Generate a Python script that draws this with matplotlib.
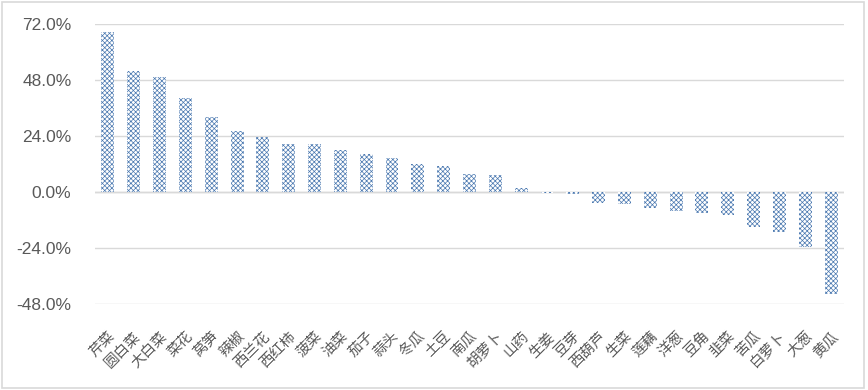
import matplotlib
matplotlib.use("Agg")
import matplotlib.pyplot as plt
from matplotlib.ticker import FuncFormatter
from matplotlib.patches import Rectangle

plt.rcParams['hatch.linewidth'] = 0.5

categories = ["芹菜", "圆白菜", "大白菜", "菜花", "莴笋", "辣椒", "西兰花", "西红柿", "菠菜", "油菜",
              "茄子", "蒜头", "冬瓜", "土豆", "南瓜", "胡萝卜", "山药", "生姜", "豆芽", "西葫芦",
              "生菜", "莲藕", "洋葱", "豆角", "韭菜", "苦瓜", "白萝卜", "大葱", "黄瓜"]
values = [68.3, 51.7, 49.1, 40.3, 32.1, 26.1, 23.4, 20.3, 20.3, 18.1,
          16.4, 14.5, 12.1, 11.0, 7.6, 7.2, 1.7, -0.5, -0.9, -4.6,
          -5.0, -7.1, -8.0, -9.1, -9.7, -15.1, -17.3, -23.8, -43.7]
yticks = [-48, -24, 0, 24, 48, 72]

fig = plt.figure(figsize=(8.68, 3.90), dpi=100)
ax = fig.add_axes([95/868, 1 - 304/390, (844-95)/868, (304-23.7)/390])

x = list(range(len(categories)))
ax.bar(x, values, width=0.5, facecolor='white', edgecolor='#4a78b0', hatch='xxxxxxx', linewidth=0, zorder=3)

ax.set_ylim(-48, 72)
ax.set_xlim(-0.5, len(categories) - 0.5)
ax.set_yticks(yticks)
ax.yaxis.set_major_formatter(FuncFormatter(lambda v, p: f"{v:.1f}%"))
ax.grid(axis='y', color='#d9d9d9', linewidth=1, zorder=0)
ax.axhline(0, color='#d0d0d0', linewidth=1, zorder=1)
for s in ax.spines.values():
    s.set_visible(False)
ax.tick_params(axis='both', length=0)
ax.tick_params(axis='y', pad=17, labelsize=12.5, labelcolor='#595959')
for t in ax.get_yticklabels():
    t.set_fontfamily('Liberation Sans')

ax.set_xticks(x)
ax.set_xticklabels(categories, rotation=45, ha='right', va='top', rotation_mode='anchor',
                   fontsize=10.5, color='#595959', family=['Noto Sans CJK SC', 'DejaVu Sans'])
ax.tick_params(axis='x', pad=18)

fig.patches.append(Rectangle((2/868, 2/390), 862/868, 386/390, transform=fig.transFigure,
                             fill=False, edgecolor='#d9d9d9', linewidth=1.2))

fig.savefig("out.png", dpi=100)
